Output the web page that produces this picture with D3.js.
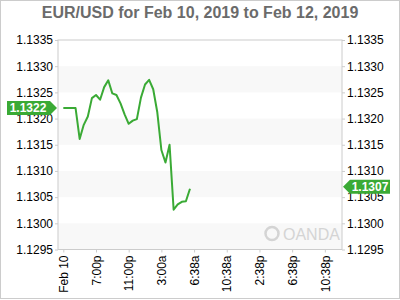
<!DOCTYPE html>
<html>
<head>
<meta charset="utf-8">
<script src="https://cdn.jsdelivr.net/npm/d3@7"></script>
<style>
  body { margin: 0; background: #fff; }
  text { font-family: "Liberation Sans", Arial, sans-serif; }
</style>
</head>
<body>
<script>
// half-hour steps from the first tick (hours)
var hours = [0, 0.5, 1, 1.5, 2, 2.5, 3, 3.5, 4, 4.5, 5, 5.5, 6, 6.5, 7, 7.5,
             8, 8.5, 9, 9.5, 10, 10.5, 11, 11.5, 12, 12.5, 13, 13.5, 14, 14.5, 15, 15.5];
var prices = [1.1322, 1.1322, 1.1322, 1.1322, 1.13161, 1.13188, 1.13204, 1.13239,
              1.13245, 1.13236, 1.13260, 1.13273, 1.13248, 1.13245, 1.13229, 1.13208,
              1.13190, 1.13196, 1.13199, 1.13240, 1.13265, 1.13274, 1.13256, 1.13212,
              1.13140, 1.13116, 1.13150, 1.13026, 1.13036, 1.13041, 1.13042, 1.13066];
var xTickHours = [0, 4, 8, 12, 16, 20, 24, 28, 32];
var xTickLabels = ["Feb 10", "7:00p", "11:00p", "3:00a", "6:38a", "10:38a", "2:38p", "6:38p", "10:38p"];
var yTicks = [1.1295, 1.1300, 1.1305, 1.1310, 1.1315, 1.1320, 1.1325, 1.1330, 1.1335];
var openPrice = 1.1322;
var lastPrice = 1.1307;
var title = "EUR/USD for Feb 10, 2019 to Feb 12, 2019";

function main() {
    var W = 400, H = 300;
    var margin = {top: 40, right: 58, bottom: 50.5, left: 58};
    var width = W - margin.left - margin.right,
        height = H - margin.top - margin.bottom;

    var green = "#3aaa35";

    var svg = d3.select("body").append("svg")
        .attr("width", W)
        .attr("height", H);

    // outer frame
    svg.append("rect")
        .attr("x", 0.5).attr("y", 0.5)
        .attr("width", W - 1).attr("height", H - 2)
        .attr("fill", "#fff")
        .attr("stroke", "#ccc");

    svg.append("text")
        .attr("x", W / 2)
        .attr("y", 18)
        .attr("text-anchor", "middle")
        .attr("font-size", "16px")
        .attr("font-weight", "bold")
        .attr("fill", "#6b6b6b")
        .text(title);

    var g = svg.append("g")
        .attr("transform", "translate(" + margin.left + "," + margin.top + ")");

    var xScale = d3.scaleLinear().domain([-0.65, 34.1]).range([0, width]);
    var yScale = d3.scaleLinear().domain([1.1295, 1.1335]).range([height, 0]);

    // alternating bands
    var bands = [[1.1295, 1.1300], [1.1305, 1.1310], [1.1315, 1.1320], [1.1325, 1.1330]];
    g.selectAll(".band").data(bands).enter().append("rect")
        .attr("x", 0)
        .attr("width", width)
        .attr("y", function(d) { return yScale(d[1]); })
        .attr("height", function(d) { return yScale(d[0]) - yScale(d[1]); })
        .attr("fill", "#f8f8f8");

    // watermark
    var wm = g.append("g").attr("transform", "translate(" + (width - 68) + "," + (height - 11) + ")");
    wm.append("circle").attr("cx", -2).attr("cy", -5).attr("r", 6.5)
        .attr("fill", "none").attr("stroke", "#d4d4d4").attr("stroke-width", 2.5);
    wm.append("text").attr("x", 9).attr("y", 1)
        .attr("font-size", "16px").attr("fill", "#d4d4d4")
        .text("OANDA");

    // frame
    g.append("rect")
        .attr("x", 0).attr("y", 0)
        .attr("width", width).attr("height", height)
        .attr("fill", "none")
        .attr("stroke", "#ccc");

    // axes
    var fmt = d3.format(".4f");
    var yLeft = g.append("g").call(d3.axisLeft(yScale).tickValues(yTicks).tickFormat(fmt).tickSize(3).tickPadding(2));
    var yRight = g.append("g").attr("transform", "translate(" + width + ",0)")
        .call(d3.axisRight(yScale).tickValues(yTicks).tickFormat(fmt).tickSize(3).tickPadding(2));
    var xAxis = g.append("g").attr("transform", "translate(0," + height + ")")
        .call(d3.axisBottom(xScale).tickValues(xTickHours)
            .tickFormat(function(d, i) { return xTickLabels[i]; }).tickSize(3));

    [yLeft, yRight, xAxis].forEach(function(a) {
        a.select(".domain").remove();
        a.selectAll("line").attr("stroke", "#ccc");
        a.selectAll("text").attr("font-size", "12px").attr("fill", "#000")
            .style("font-family", "'Liberation Sans', Arial, sans-serif");
    });

    xAxis.selectAll("text")
        .attr("transform", "rotate(-90)")
        .attr("text-anchor", "end")
        .attr("x", -6)
        .attr("y", 0)
        .attr("dy", "0.35em");

    // price line
    var line = d3.line()
        .x(function(d, i) { return xScale(hours[i]); })
        .y(function(d) { return yScale(d); });

    g.append("path")
        .datum(prices)
        .attr("fill", "none")
        .attr("stroke", green)
        .attr("stroke-width", 2)
        .attr("stroke-linejoin", "round")
        .attr("d", line);

    // left price flag (pointing right)
    var yo = yScale(openPrice);
    g.append("path")
        .attr("d", "M" + (-51) + "," + (yo - 7) + "H" + (-8) + "L" + (-1) + "," + yo + "L" + (-8) + "," + (yo + 7) + "H" + (-51) + "Z")
        .attr("fill", green);
    g.append("text")
        .attr("x", -30).attr("y", yo).attr("dy", "0.36em")
        .attr("text-anchor", "middle")
        .attr("font-size", "12px").attr("font-weight", "bold").attr("fill", "#fff")
        .text(fmt(openPrice));

    // right price flag (pointing left)
    var yl = yScale(lastPrice);
    g.append("path")
        .attr("d", "M" + 1 + "," + yl + "L" + 8 + "," + (yl - 7) + "H" + 48 + "V" + (yl + 7) + "H" + 8 + "Z")
        .attr("transform", "translate(" + width + ",0)")
        .attr("fill", green);
    g.append("text")
        .attr("x", width + 28).attr("y", yl).attr("dy", "0.36em")
        .attr("text-anchor", "middle")
        .attr("font-size", "12px").attr("font-weight", "bold").attr("fill", "#fff")
        .text(fmt(lastPrice));
}

main();
</script>
</body>
</html>
